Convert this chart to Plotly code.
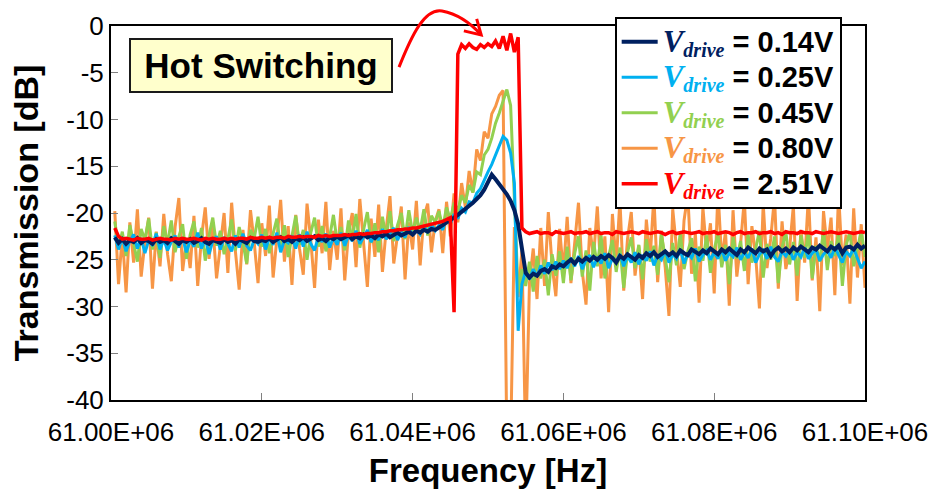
import plotly.graph_objs as go

# frequency sweep: 200 points, 0.5 kHz apart, starting just above 61.000 MHz
SWEEP_START_HZ = 61.0e6
SWEEP_STEP_HZ = 500.0

# transmission [dB], one row = 10 sweep points
v014 = [
    -22.6, -23.2, -22.8, -23.3, -22.9, -23.1, -22.7, -23.2, -22.9, -23.0,
    -23.3, -22.8, -23.1, -22.9, -23.2, -22.7, -23.0, -23.3, -22.9, -23.1,
    -22.8, -23.2, -23.0, -22.7, -23.1, -23.3, -22.9, -23.0, -23.2, -22.8,
    -23.1, -22.9, -23.3, -22.8, -23.0, -23.2, -22.7, -23.0, -23.1, -22.9,
    -23.0, -22.7, -23.1, -22.9, -22.6, -23.0, -22.8, -23.1, -22.7, -22.9,
    -22.6, -23.0, -22.8, -22.5, -22.9, -22.7, -23.0, -22.6, -22.8, -22.5,
    -22.8, -22.6, -22.4, -22.8, -22.5, -22.7, -22.3, -22.6, -22.4, -22.7,
    -22.3, -22.5, -22.2, -22.6, -22.3, -22.1, -22.4, -22.2, -22.0, -22.3,
    -21.9, -22.1, -21.8, -22.0, -21.7, -21.8, -21.6, -21.3, -21.0, -20.8,
    -20.5, -20.2, -19.9, -19.6, -19.3, -18.9, -18.5, -18.1, -17.5, -16.8,
    -15.9, -16.4, -16.9, -17.4, -18.0, -18.7, -19.7, -21.2, -24.2, -26.4,
    -26.9, -26.5, -26.7, -26.2, -26.0, -26.3, -25.7, -25.9, -25.5, -25.7,
    -25.3, -25.0, -25.4, -24.9, -25.2, -24.8, -25.1, -24.7, -25.0, -24.6,
    -24.9, -24.5, -24.8, -25.3, -24.6, -24.9, -24.4, -24.7, -25.0, -24.5,
    -24.8, -24.3, -24.6, -24.2, -24.7, -24.4, -24.1, -24.5, -24.2, -24.6,
    -24.0, -24.3, -24.5, -23.9, -24.2, -24.4, -24.0, -24.3, -23.8, -24.1,
    -24.4, -23.9, -24.2, -23.8, -24.1, -24.5, -23.9, -24.2, -23.7, -24.0,
    -24.3, -23.8, -24.1, -23.9, -24.6, -24.0, -23.7, -24.1, -23.8, -24.2,
    -23.7, -24.0, -23.6, -23.9, -24.2, -23.7, -23.9, -23.5, -23.8, -24.1,
    -23.6, -23.9, -23.5, -24.3, -23.7, -23.6, -23.9, -23.4, -23.8, -23.5,
]

v025 = [
    -22.4, -23.9, -22.6, -24.1, -23.0, -22.3, -23.8, -22.7, -24.3, -22.9,
    -23.5, -22.2, -23.9, -22.8, -24.0, -23.1, -22.4, -23.7, -22.6, -24.2,
    -22.9, -23.6, -22.1, -23.8, -22.7, -24.4, -23.0, -22.5, -23.9, -22.6,
    -23.3, -24.1, -22.4, -23.7, -22.2, -23.5, -24.0, -22.8, -23.3, -22.3,
    -23.9, -22.6, -23.4, -22.1, -24.2, -22.9, -23.2, -22.4, -23.8, -22.3,
    -23.6, -22.0, -23.3, -24.0, -22.5, -23.1, -22.2, -23.7, -22.6, -23.4,
    -22.1, -23.5, -22.4, -23.0, -21.9, -23.3, -22.6, -21.8, -23.1, -22.3,
    -22.9, -21.7, -22.8, -22.2, -21.6, -22.9, -22.0, -22.6, -21.5, -22.4,
    -21.8, -22.3, -21.4, -22.1, -21.2, -21.9, -21.3, -21.8, -20.6, -21.2,
    -20.1, -20.6, -19.5, -19.9, -18.8, -18.9, -17.9, -17.4, -16.4, -15.6,
    -14.8, -13.8, -12.7, -11.8, -12.2, -13.6, -16.8, -32.6, -27.6, -26.2,
    -27.1, -26.0, -26.8, -25.6, -26.5, -25.3, -26.1, -25.2, -26.0, -25.1,
    -25.9, -24.8, -25.7, -24.6, -26.0, -25.0, -24.5, -25.8, -24.7, -25.4,
    -24.3, -25.9, -24.8, -25.2, -24.4, -25.7, -24.6, -25.3, -24.2, -25.5,
    -24.5, -25.1, -24.1, -25.6, -24.6, -25.0, -24.0, -25.3, -24.4, -24.9,
    -23.9, -25.4, -24.3, -24.8, -23.8, -25.2, -24.5, -24.0, -25.0, -24.2,
    -24.9, -23.9, -25.1, -24.3, -24.7, -23.7, -25.0, -24.2, -24.8, -23.8,
    -25.3, -24.4, -24.0, -24.9, -23.6, -24.7, -25.2, -24.1, -24.6, -23.9,
    -25.0, -24.2, -24.7, -23.7, -24.9, -24.3, -23.9, -25.1, -24.4, -24.0,
    -24.8, -23.6, -24.5, -25.3, -24.1, -24.6, -23.8, -24.9, -25.9, -25.2,
]

v045 = [
    -20.9, -23.8, -22.0, -24.6, -21.3, -23.1, -25.2, -21.7, -22.9, -20.6,
    -23.9, -22.1, -24.8, -21.4, -23.3, -20.8, -24.2, -22.5, -21.2, -24.9,
    -22.3, -20.9, -23.7, -21.6, -25.1, -22.4, -20.5, -23.5, -21.9, -24.4,
    -22.8, -20.7, -24.0, -21.5, -23.2, -25.4, -21.8, -22.7, -20.4, -23.6,
    -21.7, -24.3, -22.2, -20.6, -23.8, -21.3, -24.7, -22.5, -20.3, -23.4,
    -21.8, -25.0, -22.1, -20.5, -23.6, -21.4, -24.1, -22.6, -20.2, -23.1,
    -21.5, -24.0, -20.8, -22.9, -20.1, -23.7, -21.6, -19.9, -23.2, -21.1,
    -24.2, -20.4, -22.7, -19.8, -23.0, -21.3, -20.0, -22.8, -19.7, -22.1,
    -20.5, -21.9, -19.6, -22.4, -20.3, -21.0, -19.8, -21.6, -19.4, -20.7,
    -18.9, -19.8, -18.1, -18.9, -17.0, -17.8, -15.6, -15.9, -13.8, -13.2,
    -12.0, -10.4, -9.3, -8.0, -6.8, -8.5, -19.5, -28.5, -26.0, -27.8,
    -25.2, -28.4, -24.6, -27.0, -25.0, -28.8, -24.4, -26.7, -24.1, -27.5,
    -23.6, -27.2, -24.3, -22.5, -26.8, -24.0, -28.3, -23.1, -25.7, -22.4,
    -27.0, -24.6, -22.9, -26.3, -23.7, -28.0, -24.2, -22.6, -25.9, -23.4,
    -27.1, -22.8, -25.2, -23.5, -26.6, -22.3, -24.8, -27.4, -23.2, -25.6,
    -22.1, -26.0, -24.1, -22.7, -27.3, -23.6, -25.1, -22.4, -26.4, -23.9,
    -22.2, -25.8, -23.4, -27.6, -22.6, -24.9, -23.0, -26.2, -22.3, -25.3,
    -23.8, -21.9, -26.9, -23.3, -25.0, -22.5, -27.5, -23.7, -22.0, -25.5,
    -23.1, -26.7, -22.4, -24.8, -22.0, -27.0, -23.5, -25.2, -21.8, -26.1,
    -23.0, -24.6, -22.2, -27.8, -23.4, -22.1, -25.7, -23.6, -21.9, -24.7,
]

v080 = [
    -19.8, -27.6, -22.4, -28.5, -21.0, -25.3, -19.6, -26.8, -23.1, -20.5,
    -28.1, -22.0, -25.7, -20.1, -24.4, -27.3, -21.5, -18.4, -26.2, -22.8,
    -25.9, -20.3, -27.8, -22.6, -19.4, -24.9, -21.3, -27.0, -23.5, -20.0,
    -26.4, -18.9, -24.1, -28.2, -21.8, -25.5, -19.7, -23.2, -27.5, -21.1,
    -24.6, -19.2, -26.9, -22.3, -18.6, -25.2, -21.4, -27.7, -20.2, -23.8,
    -26.6, -19.0, -22.9, -28.0, -20.7, -24.3, -18.8, -26.1, -21.9, -25.0,
    -19.5, -27.2, -22.1, -20.0, -25.8, -18.5, -23.4, -27.9, -20.6, -24.7,
    -19.1, -26.3, -21.7, -18.2, -25.4, -22.4, -19.3, -27.1, -21.0, -23.9,
    -18.7, -25.6, -20.4, -19.0, -24.2, -20.9, -19.6, -24.3, -18.8, -22.5,
    -17.9, -21.0, -16.8, -19.4, -15.5, -17.8, -13.2, -14.4, -11.3, -12.0,
    -9.4, -8.6, -7.4, -6.9, -45.0, -45.0, -21.5, -29.0, -24.0, -45.0,
    -27.5, -23.8, -29.2, -21.6, -27.8, -19.9, -25.6, -28.9, -21.7, -26.4,
    -20.4, -27.5, -23.1, -18.9, -26.2, -29.8, -21.6, -24.7, -19.3, -27.0,
    -22.5, -30.6, -20.1, -25.4, -18.6, -28.3, -22.8, -19.9, -26.7, -23.5,
    -29.2, -20.7, -24.9, -18.2, -27.4, -21.9, -25.8, -31.0, -19.6, -23.7,
    -27.9, -20.8, -18.0, -26.5, -22.2, -29.6, -19.4, -24.3, -21.1, -28.6,
    -17.6, -25.1, -22.0, -29.9, -19.7, -26.8, -23.3, -18.5, -27.6, -21.4,
    -24.6, -30.2, -19.0, -25.9, -22.7, -18.3, -28.1, -20.9, -26.0, -23.8,
    -19.2, -29.4, -21.8, -25.3, -18.1, -27.2, -22.6, -30.5, -19.8, -24.0,
    -20.5, -28.8, -17.9, -25.6, -22.3, -29.7, -19.5, -26.9, -21.2, -28.0,
]

v251 = [
    -21.6, -22.5, -22.8, -22.7, -22.8, -22.9, -22.7, -22.8, -22.8, -22.7,
    -22.9, -22.8, -22.7, -22.8, -22.8, -22.9, -22.7, -22.8, -22.7, -22.8,
    -22.8, -22.7, -22.8, -22.9, -22.7, -22.8, -22.7, -22.8, -22.8, -22.7,
    -22.8, -22.7, -22.8, -22.7, -22.7, -22.8, -22.6, -22.7, -22.7, -22.6,
    -22.7, -22.6, -22.7, -22.6, -22.6, -22.7, -22.5, -22.6, -22.6, -22.5,
    -22.6, -22.5, -22.5, -22.6, -22.4, -22.5, -22.4, -22.5, -22.4, -22.4,
    -22.4, -22.3, -22.4, -22.3, -22.3, -22.2, -22.3, -22.2, -22.2, -22.1,
    -22.1, -22.0, -22.0, -21.9, -21.9, -21.8, -21.8, -21.7, -21.7, -21.6,
    -21.6, -21.5, -21.4, -21.3, -21.2, -21.1, -21.0, -20.9, -20.7, -20.5,
    -30.6, -3.0, -2.0, -2.4, -1.9, -2.3, -2.5, -2.0, -2.3, -1.9,
    -2.2, -1.6, -2.4, -1.1, -2.6, -0.8, -2.8, -1.2, -21.6, -22.0,
    -22.2, -22.1, -22.0, -22.2, -22.1, -22.1, -22.3, -22.0, -22.1, -22.2,
    -22.1, -22.0, -22.2, -22.1, -22.1, -22.0, -22.2, -22.1, -22.0, -22.2,
    -22.1, -22.1, -22.3, -22.0, -22.1, -22.2, -22.1, -22.0, -22.1, -22.2,
    -22.0, -22.1, -22.2, -22.1, -22.0, -22.1, -22.3, -22.1, -22.0, -22.2,
    -22.1, -22.0, -22.1, -22.2, -22.1, -22.0, -22.2, -22.1, -22.1, -22.0,
    -22.2, -22.1, -22.0, -22.1, -22.3, -22.1, -22.0, -22.2, -22.1, -22.1,
    -22.0, -22.2, -22.1, -22.1, -22.0, -22.2, -22.1, -22.3, -22.0, -22.1,
    -22.1, -22.2, -22.0, -22.1, -22.1, -22.2, -22.0, -22.1, -22.2, -22.1,
    -22.0, -22.1, -22.2, -22.1, -22.0, -22.1, -22.2, -22.1, -22.0, -22.1,
]

drive_labels = ["0.14V", "0.25V", "0.45V", "0.80V", "2.51V"]
series = [v014, v025, v045, v080, v251]
colors = ["#002060", "#00B0F0", "#92D050", "#F79646", "#FF0000"]
widths = [4, 3, 3, 3, 3.5]

x_ticks = [61.00e6, 61.02e6, 61.04e6, 61.06e6, 61.08e6, 61.10e6]
x_tick_labels = ["61.00E+06", "61.02E+06", "61.04E+06", "61.06E+06", "61.08E+06", "61.10E+06"]
y_ticks = [0, -5, -10, -15, -20, -25, -30, -35, -40]
y_tick_labels = ["0", "-5", "-10", "-15", "-20", "-25", "-30", "-35", "-40"]

for s in series:
    assert len(s) == 200, len(s)

freq = [SWEEP_START_HZ + SWEEP_STEP_HZ * (k + 1) for k in range(len(v014))]


def legend_name(label, color):
    v = ("<span style='font-family:Liberation Serif;font-size:31px;color:%s'><b><i>V</i></b></span>" % color)
    sub = ("<sub><span style='font-family:Liberation Serif;font-size:20px;color:%s'><b><i>drive</i></b></span></sub>" % color)
    rest = "<span style='font-size:29px'><b> = %s</b></span>" % label
    return v + sub + rest


fig = go.Figure()
# orange drawn first, red last (on top); legend keeps the voltage order
for idx in [3, 2, 1, 0, 4]:
    fig.add_trace(go.Scatter(
        x=freq, y=series[idx], mode='lines',
        line=dict(color=colors[idx], width=widths[idx]),
        name=legend_name(drive_labels[idx], colors[idx]),
        legendrank=idx + 1,
    ))

# curved red arrow pointing at the switched passband
fig.add_shape(type='path', xref='paper', yref='paper',
              path='M 0.382,0.890 C 0.399,0.976 0.416,1.048 0.439,1.040 '
                   'C 0.460,1.032 0.479,1.003 0.491,0.976',
              line=dict(color='#FF0000', width=3))
fig.add_shape(type='path', xref='paper', yref='paper',
              path='M 0.485,1.019 L 0.491,0.976 L 0.468,0.987',
              line=dict(color='#FF0000', width=3))

fig.add_annotation(text="<b>Hot Switching</b>", x=0.199, y=0.894, xref='paper', yref='paper',
                   xanchor='center', yanchor='middle',
                   showarrow=False, font=dict(family='Liberation Sans', size=35, color='black'),
                   bgcolor='#FFFFCC', bordercolor='#1a1a1a', borderwidth=2, borderpad=0,
                   width=260, height=51)

axis_font = dict(family='Liberation Sans', size=26, color='black')
fig.update_xaxes(range=[61.0e6, 61.1e6], tickvals=x_ticks, ticktext=x_tick_labels,
                 ticks='inside', ticklen=7, tickcolor='#808080', tickfont=axis_font,
                 ticklabelstandoff=8,
                 showline=True, mirror=True, linecolor='black', linewidth=2,
                 showgrid=False, zeroline=False, automargin=False,
                 title=dict(text='Frequency [Hz]', standoff=13,
                            font=dict(family='Liberation Sans', size=33, weight='bold', color='black')))
fig.update_yaxes(range=[-40, 0], tickvals=y_ticks, ticktext=y_tick_labels,
                 ticks='inside', ticklen=7, tickcolor='#808080', tickfont=axis_font,
                 showline=True, mirror=True, linecolor='black', linewidth=2,
                 showgrid=False, zeroline=False, automargin=False,
                 title=dict(text='Transmission [dB]', standoff=17,
                            font=dict(family='Liberation Sans', size=34, weight='bold', color='black')))

fig.update_layout(
    width=933, height=491,
    margin=dict(l=111, r=68, t=26, b=91, pad=0, autoexpand=False),
    paper_bgcolor='white', plot_bgcolor='white',
    showlegend=True,
    legend=dict(x=0.668, y=1.024, xanchor='left', yanchor='top',
                bgcolor='white', bordercolor='black', borderwidth=2,
                font=dict(family='Liberation Sans', size=25, color='black'),
                itemwidth=36, tracegroupgap=0),
)

# drop the page's default body margin so the figure sits at the window's corner
fig.write_html("out.html", config={'displayModeBar': False},
               post_script="document.body.style.margin='0';")
